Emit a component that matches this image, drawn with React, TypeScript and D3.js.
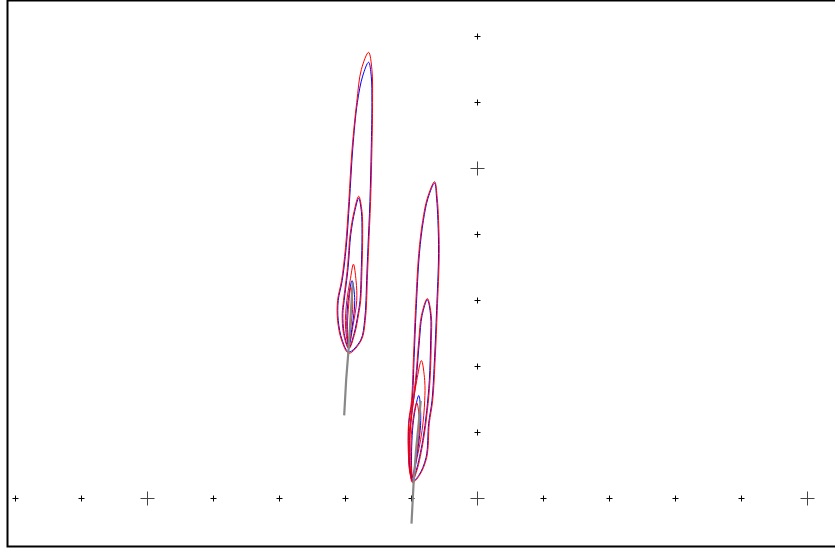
import React from "react";
import * as d3 from "d3";

// Grid crosses along the axes (data units)
const xTicks = [-7, -6, -5, -4, -3, -2, -1, 0, 1, 2, 3, 4, 5];
const yTicks = [1, 2, 3, 4, 5, 6, 7];
const majorEvery = 5;

// Each contour: base point, rows of [y, xLeft, xRight] from bottom to top, apex point
type Contour = { color: string; base: [number, number]; rows: [number, number, number][]; apex: [number, number] };

const plumeAContours: Contour[] = [
  {
    color: "blue",
    base: [-1.95, 2.22],
    rows: [[2.4, -2.05, -1.77], [2.7, -2.11, -1.71], [3.0, -2.11, -1.69], [3.3, -2.05, -1.68], [3.8, -1.99, -1.66], [4.5, -1.94, -1.63], [5.3, -1.89, -1.61], [6.0, -1.82, -1.60], [6.4, -1.74, -1.61]],
    apex: [-1.65, 6.61],
  },
  {
    color: "red",
    base: [-1.95, 2.2],
    rows: [[2.4, -2.06, -1.76], [2.7, -2.12, -1.7], [3.0, -2.12, -1.68], [3.3, -2.06, -1.67], [3.8, -2.0, -1.65], [4.5, -1.95, -1.62], [5.3, -1.9, -1.6], [6.0, -1.83, -1.59], [6.5, -1.76, -1.6]],
    apex: [-1.65, 6.76],
  },
  {
    color: "blue",
    base: [-1.95, 2.28],
    rows: [[2.5, -2.02, -1.87], [2.8, -2.04, -1.81], [3.0, -2.02, -1.78], [3.5, -1.96, -1.76], [4.0, -1.92, -1.75], [4.35, -1.86, -1.76]],
    apex: [-1.8, 4.55],
  },
  {
    color: "red",
    base: [-1.95, 2.27],
    rows: [[2.5, -2.03, -1.86], [2.8, -2.05, -1.8], [3.0, -2.03, -1.77], [3.5, -1.97, -1.75], [4.0, -1.93, -1.74], [4.35, -1.87, -1.75]],
    apex: [-1.8, 4.58],
  },
  {
    color: "red",
    base: [-1.95, 2.3],
    rows: [[2.6, -2.0, -1.89], [3.0, -1.98, -1.83], [3.3, -1.93, -1.84]],
    apex: [-1.88, 3.55],
  },
  {
    color: "blue",
    base: [-1.95, 2.32],
    rows: [[2.6, -1.98, -1.9], [3.0, -1.96, -1.86]],
    apex: [-1.9, 3.3],
  },
  {
    color: "red",
    base: [-1.95, 2.33],
    rows: [[2.6, -1.97, -1.92], [2.95, -1.95, -1.89]],
    apex: [-1.92, 3.2],
  },
];

const plumeBContours: Contour[] = [
  {
    color: "blue",
    base: [-0.985, 0.26],
    rows: [[0.35, -1.01, -0.89], [0.62, -1.04, -0.78], [1.14, -1.04, -0.74], [1.48, -0.99, -0.69], [2.14, -0.96, -0.65], [2.85, -0.93, -0.62], [3.71, -0.88, -0.59], [4.21, -0.82, -0.6], [4.55, -0.75, -0.62]],
    apex: [-0.65, 4.78],
  },
  {
    color: "red",
    base: [-0.985, 0.24],
    rows: [[0.35, -1.015, -0.88], [0.62, -1.045, -0.77], [1.14, -1.045, -0.73], [1.48, -1.0, -0.68], [2.14, -0.97, -0.64], [2.85, -0.94, -0.61], [3.71, -0.89, -0.58], [4.21, -0.83, -0.59], [4.55, -0.76, -0.61]],
    apex: [-0.65, 4.8],
  },
  {
    color: "blue",
    base: [-0.985, 0.28],
    rows: [[0.42, -1.02, -0.93], [0.88, -1.03, -0.83], [1.33, -0.99, -0.77], [1.79, -0.93, -0.73], [2.39, -0.88, -0.71], [2.77, -0.84, -0.71]],
    apex: [-0.76, 3.01],
  },
  {
    color: "red",
    base: [-0.985, 0.27],
    rows: [[0.42, -1.03, -0.92], [0.88, -1.04, -0.82], [1.33, -1.0, -0.76], [1.79, -0.94, -0.72], [2.39, -0.89, -0.7], [2.77, -0.85, -0.7]],
    apex: [-0.76, 3.03],
  },
  {
    color: "red",
    base: [-0.985, 0.3],
    rows: [[0.5, -1.02, -0.94], [1.03, -1.02, -0.84], [1.48, -0.97, -0.8], [1.79, -0.92, -0.8]],
    apex: [-0.85, 2.09],
  },
  {
    color: "blue",
    base: [-0.985, 0.32],
    rows: [[0.58, -1.0, -0.93], [1.18, -0.97, -0.86]],
    apex: [-0.89, 1.56],
  },
  {
    color: "red",
    base: [-0.985, 0.33],
    rows: [[0.58, -1.01, -0.94], [1.1, -0.99, -0.88]],
    apex: [-0.92, 1.45],
  },
];

// Grey centre-line tracks of each plume
const trackA: [number, number][] = [[-2.02, 1.26], [-1.99, 1.8], [-1.95, 2.3], [-1.92, 2.8], [-1.89, 3.27]];
const trackB: [number, number][] = [[-1.0, -0.38], [-0.97, 0.2], [-0.93, 0.75], [-0.89, 1.15], [-0.86, 1.48]];

const W = 835;
const H = 548;

const x = d3.scaleLinear().domain([-7, 5]).range([15.5, 807.5]);
const y = d3.scaleLinear().domain([0, 7]).range([498.5, 36.5]);

const contourLine = d3
  .line<[number, number]>()
  .x((d) => x(d[0]))
  .y((d) => y(d[1]))
  .curve(d3.curveCatmullRomClosed.alpha(0.5));

const trackLine = d3
  .line<[number, number]>()
  .x((d) => x(d[0]))
  .y((d) => y(d[1]));

function contourPoints(c: Contour): [number, number][] {
  const left = c.rows.map((r) => [r[1], r[0]] as [number, number]);
  const right = c.rows
    .slice()
    .reverse()
    .map((r) => [r[2], r[0]] as [number, number]);
  return [c.base, ...left, c.apex, ...right];
}

function Cross({ cx, cy, major }: { cx: number; cy: number; major: boolean }) {
  const s = major ? 7 : 3;
  const col = major ? "#444" : "#000";
  return (
    <g stroke={col} strokeWidth={1}>
      <line x1={cx - s} x2={cx + s} y1={cy} y2={cy} />
      <line x1={cx} x2={cx} y1={cy - s} y2={cy + s} />
    </g>
  );
}

export default function App() {
  const contours = [...plumeAContours, ...plumeBContours];
  return (
    <svg
      width={W}
      height={H}
      style={{ position: "absolute", left: 0, top: 0, background: "#fff" }}
    >
      <rect x={7.5} y={0.5} width={900} height={546} fill="#fff" stroke="#000" strokeWidth={2} />
      {xTicks.map((t) => (
        <Cross key={"x" + t} cx={x(t)} cy={y(0)} major={t % majorEvery === 0} />
      ))}
      {yTicks.map((t) => (
        <Cross key={"y" + t} cx={x(0)} cy={y(t)} major={t % majorEvery === 0} />
      ))}
      {contours.map((c, i) => (
        <path key={"c" + i} d={contourLine(contourPoints(c)) || ""} fill="none" stroke={c.color} strokeWidth={1} />
      ))}
      {[trackA, trackB].map((t, i) => (
        <path key={"t" + i} d={trackLine(t) || ""} fill="none" stroke="#888" strokeWidth={2.2} />
      ))}
    </svg>
  );
}
